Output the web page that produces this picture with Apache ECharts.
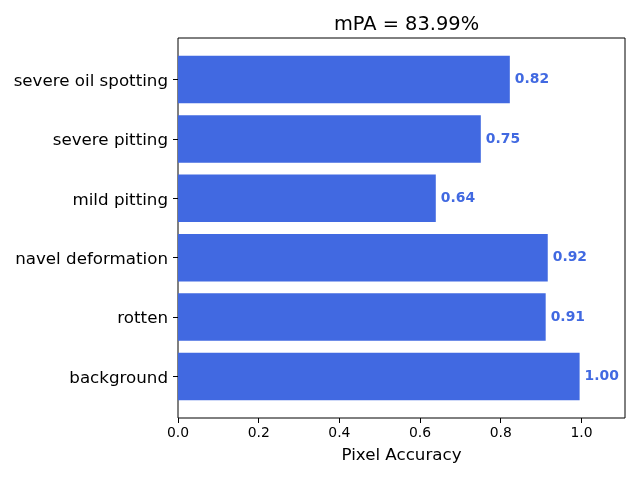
<!DOCTYPE html>
<html>
<head>
<meta charset="utf-8">
<script src="https://cdn.jsdelivr.net/npm/echarts@6/dist/echarts.min.js"></script>
<style>
  html, body { margin: 0; padding: 0; background: #fff; }
  #chart { width: 640px; height: 480px; }
</style>
</head>
<body>
<div id="chart"></div>
<script>
// bottom to top, as drawn
var categories = ['background', 'rotten', 'navel deformation', 'mild pitting', 'severe pitting', 'severe oil spotting'];
var accuracy = [0.9955, 0.9114, 0.9165, 0.6390, 0.7506, 0.8225];
var xTicks = [0, 0.2, 0.4, 0.6, 0.8, 1.0];
var titleText = 'mPA = 83.99%';

var FONT = 'DejaVu Sans';
var BLUE = '#4169E1';
var X_MAX = 1.108;

var myChart = echarts.init(document.getElementById('chart'));

var option = {
    animation: false,
    backgroundColor: '#fff',
    textStyle: { fontFamily: FONT },
    title: {
        text: titleText,
        left: 401.5,
        top: 10,
        textAlign: 'center',
        textStyle: { fontFamily: FONT, fontSize: 19.4, fontWeight: 'normal', color: '#000' }
    },
    grid: [
        // outer frame, holds the x ticks
        { left: 178, right: 15, top: 38, bottom: 62, show: true, borderColor: '#000', borderWidth: 1, backgroundColor: 'transparent' },
        // bar band area (matplotlib margins)
        { left: 178, right: 15, top: 49.8, bottom: 73.8 }
    ],
    xAxis: [{
        gridIndex: 0,
        type: 'value',
        min: 0,
        max: X_MAX,
        name: 'Pixel Accuracy',
        nameLocation: 'middle',
        nameGap: 29,
        nameTextStyle: { fontFamily: FONT, fontSize: 16.7, color: '#000' },
        axisLine: { show: false },
        axisTick: { show: true, length: 5, customValues: xTicks, lineStyle: { color: '#000' } },
        axisLabel: {
            customValues: xTicks,
            margin: 8,
            fontFamily: FONT,
            fontSize: 13.9,
            color: '#000',
            formatter: function(v) { return v.toFixed(1); }
        },
        splitLine: { show: false }
    }, {
        gridIndex: 1,
        type: 'value',
        min: 0,
        max: X_MAX,
        show: false
    }],
    yAxis: [{
        gridIndex: 0,
        type: 'value',
        axisLine: { show: false },
        axisTick: { show: false },
        axisLabel: { show: false },
        splitLine: { show: false }
    }, {
        gridIndex: 1,
        type: 'category',
        data: categories,
        axisLine: { show: false },
        axisTick: { show: true, alignWithLabel: true, length: 5, lineStyle: { color: '#000' } },
        axisLabel: {
            margin: 10,
            formatter: function(v) { return '{c|' + v + '}'; },
            rich: {
                c: { fontFamily: FONT, fontSize: 16.7, color: '#000', padding: [4, 0, 0, 0] }
            }
        },
        splitLine: { show: false }
    }],
    series: [{
        type: 'bar',
        xAxisIndex: 1,
        yAxisIndex: 1,
        data: accuracy,
        barWidth: '80%',
        itemStyle: { color: BLUE },
        label: {
            show: true,
            position: 'right',
            distance: 5,
            fontFamily: FONT,
            fontSize: 13.9,
            fontWeight: 'bold',
            color: BLUE,
            formatter: function(p) { return p.value.toFixed(2); }
        }
    }]
};

myChart.setOption(option);
</script>
</body>
</html>
